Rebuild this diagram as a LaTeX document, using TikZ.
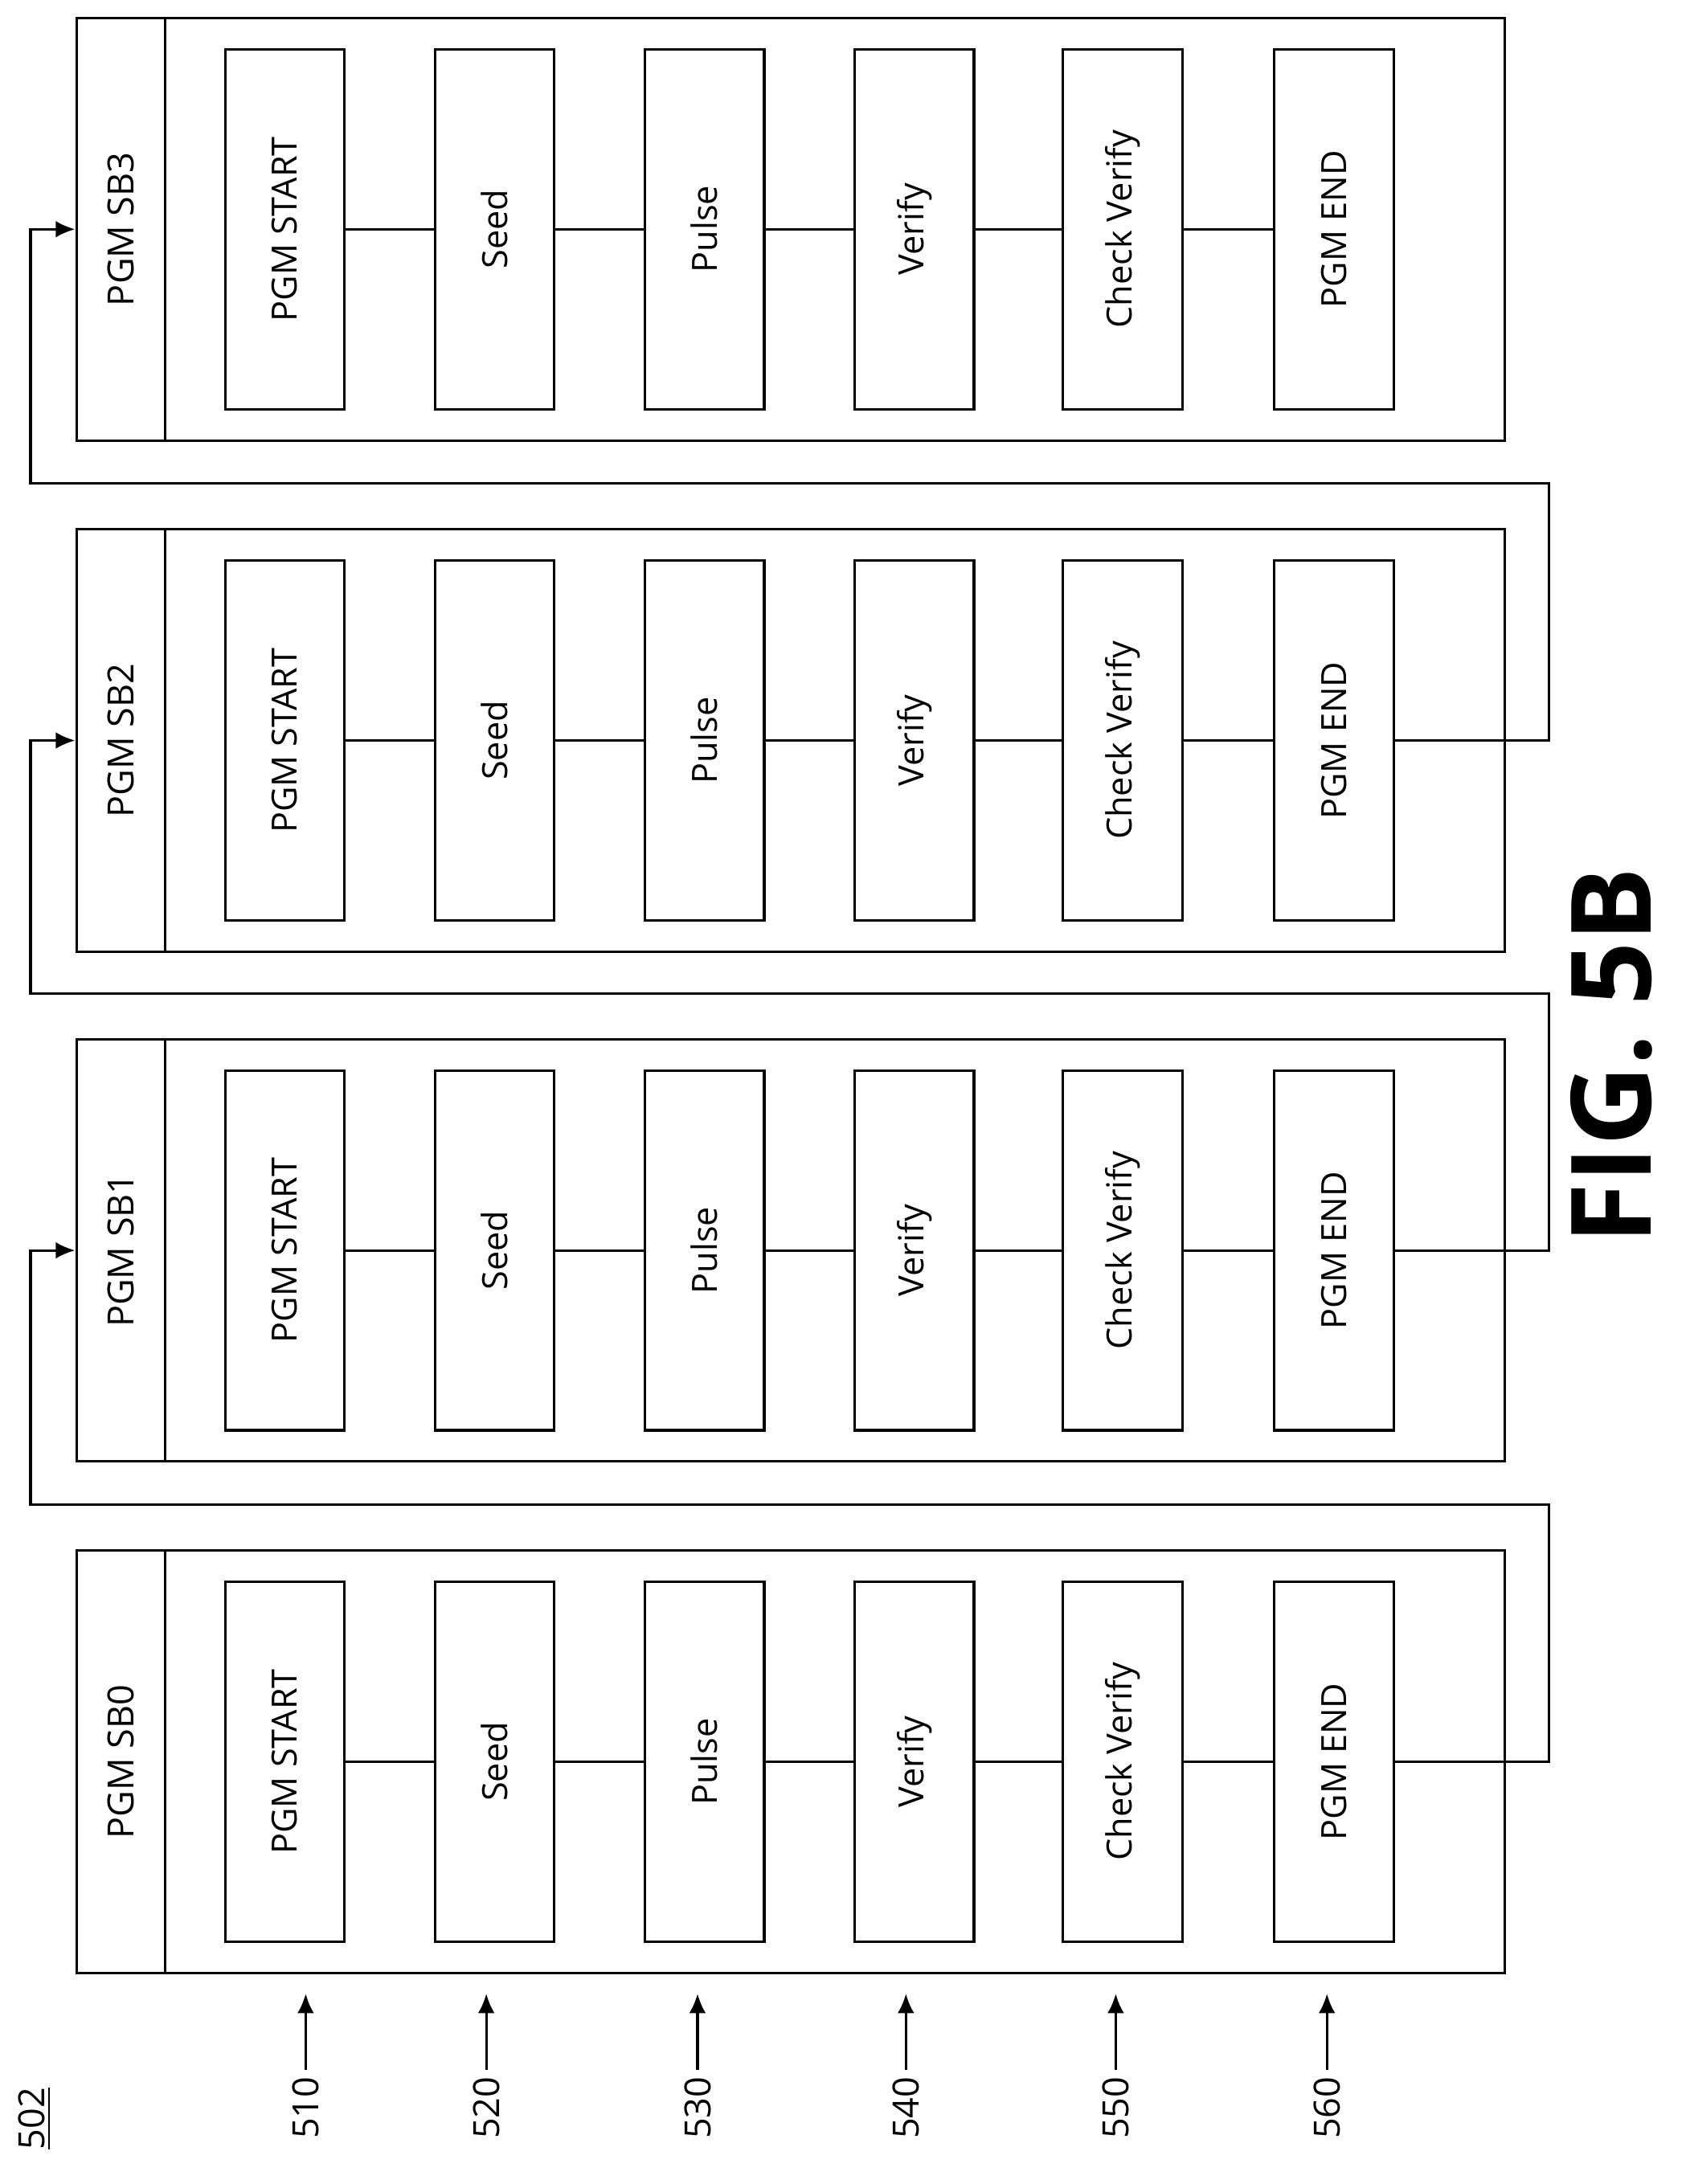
\documentclass[tikz,border=0pt]{standalone}
\usepackage{fontspec}
\setmainfont{Open Sans}
\usetikzlibrary{arrows.meta}
\begin{document}
\begin{tikzpicture}[x=0.5pt,y=-0.5pt,line width=0.9pt,
  stepbox/.style={draw,minimum width=43pt,minimum height=129.5pt,inner sep=0pt,font=\fontsize{12.5}{14}\selectfont},
  labbox/.style={minimum width=32pt,minimum height=152pt,inner sep=0pt,font=\fontsize{13}{15}\selectfont},
  arr/.style={-{Latex[length=7pt,width=6pt]}}]
\useasboundingbox (0,0) rectangle (1216,1572);
\foreach \g/\off in {0/1116,1/748,2/381,3/13}{
  \draw (55,\off) rectangle (1083,\off+304);
  \draw (119,\off) -- (119,\off+304);
  \node[labbox] (lab\g) at (87,\off+152) {\rotatebox{90}{PGM SB\g}};
  \foreach \i/\x/\t in {1/205/PGM START,2/356/Seed,3/507/Pulse,4/658/Verify,5/808/Check Verify,6/960/PGM END}{
    \node[stepbox] (b\g\i) at (\x,\off+152) {\rotatebox{90}{\t}};
  }
  \foreach \i/\j in {1/2,2/3,3/4,4/5,5/6}{\draw (b\g\i) -- (b\g\j);}
}
\foreach \g/\n/\off in {0/1/1116,1/2/748,2/3/381}{
  \coordinate (e\g) at (1115,\off+152);
  \coordinate (f\g) at (22,\off-33);
  \draw[arr] (b\g6.east) -- (e\g) |- (f\g) |- (lab\n.west);
}
\foreach \k/\x in {510/220,520/350,530/502,540/652,550/803,560/955}{
  \node[anchor=north,inner sep=2pt,font=\fontsize{13}{15}\selectfont] (n\k) at (\x,1490) {\rotatebox{90}{\k}};
  \coordinate (t\k) at (\x,1435);
  \draw[arr] (n\k.north) -- (t\k);
}
\node[font=\fontsize{13}{15}\selectfont] (ref) at (25,1525) {\rotatebox{90}{\underline{502}}};
\node[font=\bfseries\fontsize{40}{44}\selectfont] (fig) at (1160,760) {\rotatebox{90}{FIG. 5B}};
\end{tikzpicture}
\end{document}
